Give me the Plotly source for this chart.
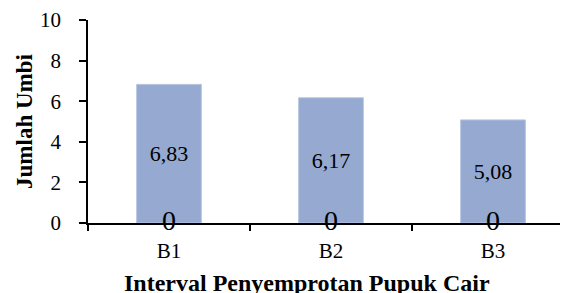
import plotly.graph_objects as go

categories = ["B1", "B2", "B3"]
jumlah_umbi = [6.83, 6.17, 5.08]
zero_labels = [0, 0, 0]
y_ticks = [0, 2, 4, 6, 8, 10]
x_title = "Interval Penyemprotan Pupuk Cair"
y_title = "Jumlah Umbi"

FONT = "'Liberation Serif', 'Times New Roman', serif"

fig = go.Figure()
fig.add_trace(go.Bar(
    x=categories, y=jumlah_umbi, width=0.4,
    marker=dict(color="#95A9D1", line=dict(color="#B9C7E2", width=1)),
    texttemplate="%{y:.2f}", textposition="inside", insidetextanchor="middle",
    textfont=dict(family=FONT, size=22, color="black"),
    showlegend=False,
))
fig.add_trace(go.Scatter(
    x=categories, y=zero_labels, mode="text",
    text=[str(v) for v in zero_labels], textposition="middle center",
    textfont=dict(family=FONT, size=28, color="black"),
    cliponaxis=False, showlegend=False,
))

fig.update_layout(
    width=568, height=293,
    margin=dict(l=80, r=8, t=12, b=78),
    paper_bgcolor="white", plot_bgcolor="white",
    separators=",.",
    font=dict(family=FONT, size=21, color="black"),
    annotations=[dict(
        text=f"<b>{x_title}</b>", xref="paper", yref="paper",
        x=0.456, y=-0.295, xanchor="center", yanchor="middle", showarrow=False,
        font=dict(family=FONT, size=24, color="black"),
    )],
)
fig.update_xaxes(
    type="category", range=[-0.5, 2.463], automargin=False,
    showline=True, linecolor="black", linewidth=1.5,
    ticks="outside", tickson="boundaries", ticklen=6, tickcolor="black", tickwidth=1.5,
    ticklabelstandoff=8,
    showgrid=False, zeroline=False,
    tickfont=dict(family=FONT, size=21),
)
fig.update_yaxes(
    range=[0, 10], tickvals=y_ticks, automargin=False,
    showline=True, linecolor="black", linewidth=1.5,
    ticks="outside", ticklen=7, tickcolor="black", tickwidth=1.5,
    ticklabelstandoff=14,
    showgrid=False, zeroline=False,
    tickfont=dict(family=FONT, size=21),
    title=dict(text=f"<b>{y_title}</b>", font=dict(family=FONT, size=23), standoff=1),
)

fig.write_html("out.html")
